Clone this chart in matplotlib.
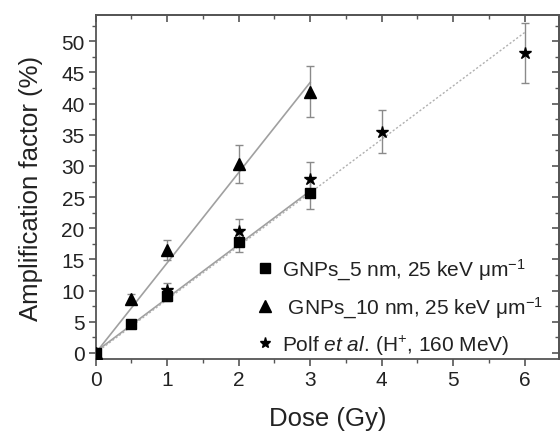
import matplotlib
matplotlib.use("Agg")
import matplotlib.pyplot as plt
from matplotlib.ticker import MultipleLocator
from matplotlib.lines import Line2D

plt.rcParams['font.family'] = ['Liberation Sans', 'DejaVu Sans']
plt.rcParams['mathtext.fontset'] = 'custom'
plt.rcParams['mathtext.rm'] = 'Liberation Sans'
plt.rcParams['mathtext.it'] = 'Liberation Sans:italic'
plt.rcParams['mathtext.default'] = 'regular'

# Data
sq_x = [0, 0.5, 1, 2, 3]
sq_y = [0, 4.7, 9.2, 17.8, 25.6]
sq_err = [0, 0.4, 0.9, 1.6, 2.5]

tri_x = [0, 0.5, 1, 2, 3]
tri_y = [0, 8.7, 16.5, 30.3, 41.9]
tri_err = [0, 0.8, 1.65, 3.0, 4.1]

star_x = [1, 2, 3, 4, 6]
star_y = [10.1, 19.6, 27.9, 35.5, 48.1]
star_err = [1.2, 1.9, 2.8, 3.5, 4.8]

fit_sq_x = [0, 3]
fit_sq_y = [0.2, 26.0]
fit_tri_x = [0, 3]
fit_tri_y = [0.0, 43.4]
fit_star_x = [0, 6]
fit_star_y = [0.0, 51.4]

labels = [r'GNPs_5 nm, 25 keV μm$^{-1}$',
          r' GNPs_10 nm, 25 keV μm$^{-1}$',
          r'Polf $\mathit{et\ al.}\,$(H$^{+}$, 160 MeV)']

fig = plt.figure(figsize=(5.6, 4.35), dpi=100)
ax = fig.add_axes([0.171, 0.172, 0.827, 0.791])

ecol = '#8a8a8a'
ax.plot(fit_tri_x, fit_tri_y, color='#a0a0a0', lw=1.2, zorder=1)
ax.plot(fit_sq_x, fit_sq_y, color='#a0a0a0', lw=1.2, zorder=1)
ax.plot(fit_star_x, fit_star_y, color='#b0b0b0', lw=1.0, ls=(0, (1.5, 1.5)), zorder=1)

ax.errorbar(sq_x, sq_y, yerr=sq_err, fmt='s', color='black', ms=6.5,
            ecolor=ecol, elinewidth=1.0, capsize=3, capthick=1.0, zorder=3)
ax.errorbar(tri_x, tri_y, yerr=tri_err, fmt='^', color='black', ms=8,
            ecolor=ecol, elinewidth=1.0, capsize=3, capthick=1.0, zorder=3)
ax.errorbar(star_x, star_y, yerr=star_err, fmt='*', color='black', ms=9,
            ecolor=ecol, elinewidth=1.0, capsize=3, capthick=1.0, zorder=3)

ax.set_xlim(0, 6.48)
ax.set_ylim(-1, 54.2)
ax.xaxis.set_major_locator(MultipleLocator(1))
ax.xaxis.set_minor_locator(MultipleLocator(0.5))
ax.yaxis.set_major_locator(MultipleLocator(5))
ax.yaxis.set_minor_locator(MultipleLocator(2.5))

spc = '#555555'
for s in ax.spines.values():
    s.set_color(spc)
    s.set_linewidth(1.3)
ax.tick_params(which='major', direction='out', length=5, width=1.2, color=spc,
               labelsize=15, labelcolor='#222222', pad=3)
ax.tick_params(which='minor', direction='out', length=3, width=1.0, color=spc)

secx = ax.secondary_xaxis('top')
secx.xaxis.set_major_locator(MultipleLocator(1))
secx.xaxis.set_minor_locator(MultipleLocator(0.5))
secx.tick_params(which='major', direction='in', length=5, width=1.2, color=spc, labeltop=False)
secx.tick_params(which='minor', direction='in', length=3, width=1.0, color=spc)
secx.spines['top'].set_color(spc)
secx.spines['top'].set_linewidth(1.3)

secy = ax.secondary_yaxis('right')
secy.yaxis.set_major_locator(MultipleLocator(5))
secy.yaxis.set_minor_locator(MultipleLocator(2.5))
secy.tick_params(which='major', direction='in', length=5, width=1.2, color=spc, labelright=False)
secy.tick_params(which='minor', direction='in', length=3, width=1.0, color=spc)
secy.spines['right'].set_color(spc)
secy.spines['right'].set_linewidth(1.3)

ax.set_xlabel('Dose (Gy)', fontsize=18.5, color='#222222', labelpad=12)
ax.set_ylabel('Amplification factor (%)', fontsize=18.5, color='#222222', labelpad=13)

lh = [Line2D([], [], marker='s', color='black', ls='', ms=6.5),
      Line2D([], [], marker='^', color='black', ls='', ms=8),
      Line2D([], [], marker='*', color='black', ls='', ms=8)]
ax.legend(lh, labels, loc='lower left', bbox_to_anchor=(0.324, -0.017),
          frameon=False, fontsize=15, handlelength=1.0, handletextpad=0.35,
          labelspacing=0.6, borderaxespad=0.0, labelcolor='#222222')

fig.savefig('out.png', dpi=100)
